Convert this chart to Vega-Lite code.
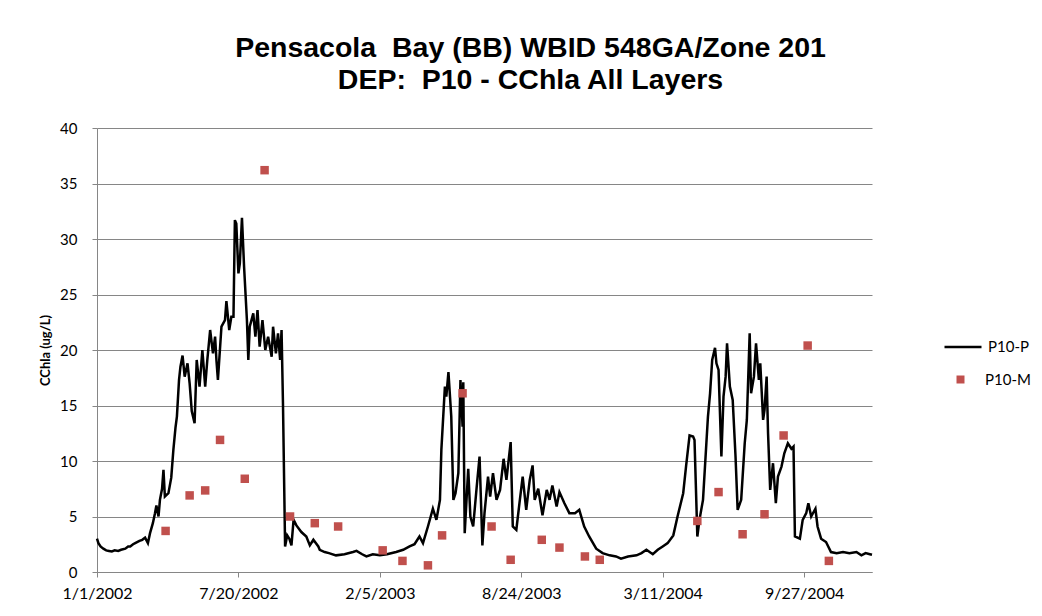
{
  "$schema": "https://vega.github.io/schema/vega-lite/v6.json",
  "width": 775,
  "height": 444,
  "autosize": "none",
  "padding": {"left": 97, "top": 128, "right": 170, "bottom": 44},
  "background": "white",
  "config": {
    "view": {"stroke": null},
    "font": "Lato",
    "axis": {"labelFont": "Lato", "titleFont": "Lato", "labelColor": "#000", "titleColor": "#000", "domainColor": "#868686", "tickColor": "#868686", "gridColor": "#868686", "gridOpacity": 1}
  },
  "title": {
    "text": ["Pensacola\u00a0 Bay (BB) WBID 548GA/Zone 201", "DEP:\u00a0 P10 - CChla All Layers"],
    "font": "Liberation Sans", "fontSize": 28.5, "fontWeight": "bold", "color": "#000",
    "anchor": "middle", "dx": 46, "offset": 27, "lineHeight": 32
  },
  "layer": [
    {
      "data": {
        "format": {"parse": {"date": "date:'%Y-%m-%d'"}},
        "values": [
{"date":"2002-01-01","chla":3.0},{"date":"2002-01-03","chla":2.6},{"date":"2002-01-06","chla":2.3},{"date":"2002-01-10","chla":2.1},{"date":"2002-01-14","chla":1.95},{"date":"2002-01-18","chla":1.9},{"date":"2002-01-22","chla":1.85},{"date":"2002-01-26","chla":1.95},{"date":"2002-01-31","chla":1.9},{"date":"2002-02-04","chla":2.0},{"date":"2002-02-10","chla":2.1},{"date":"2002-02-14","chla":2.3},{"date":"2002-02-17","chla":2.3},{"date":"2002-02-21","chla":2.5},{"date":"2002-02-24","chla":2.6},{"date":"2002-03-02","chla":2.8},{"date":"2002-03-06","chla":2.9},{"date":"2002-03-10","chla":3.1},{"date":"2002-03-14","chla":2.6},{"date":"2002-03-17","chla":3.5},{"date":"2002-03-21","chla":4.4},{"date":"2002-03-24","chla":5.3},{"date":"2002-03-26","chla":6.0},{"date":"2002-03-29","chla":5.0},{"date":"2002-03-31","chla":6.5},{"date":"2002-04-03","chla":7.5},{"date":"2002-04-05","chla":9.2},{"date":"2002-04-07","chla":6.8},{"date":"2002-04-12","chla":7.1},{"date":"2002-04-16","chla":8.5},{"date":"2002-04-19","chla":11.0},{"date":"2002-04-22","chla":13.0},{"date":"2002-04-24","chla":14.0},{"date":"2002-04-27","chla":17.3},{"date":"2002-04-29","chla":18.5},{"date":"2002-05-02","chla":19.5},{"date":"2002-05-05","chla":17.6},{"date":"2002-05-09","chla":18.8},{"date":"2002-05-12","chla":17.0},{"date":"2002-05-15","chla":14.5},{"date":"2002-05-19","chla":13.4},{"date":"2002-05-22","chla":19.1},{"date":"2002-05-26","chla":16.7},{"date":"2002-05-30","chla":20.0},{"date":"2002-06-03","chla":16.7},{"date":"2002-06-06","chla":19.1},{"date":"2002-06-10","chla":21.8},{"date":"2002-06-14","chla":19.7},{"date":"2002-06-17","chla":21.2},{"date":"2002-06-19","chla":19.0},{"date":"2002-06-21","chla":17.3},{"date":"2002-06-26","chla":22.1},{"date":"2002-07-01","chla":22.7},{"date":"2002-07-03","chla":24.4},{"date":"2002-07-07","chla":21.8},{"date":"2002-07-10","chla":23.0},{"date":"2002-07-13","chla":23.0},{"date":"2002-07-15","chla":31.7},{"date":"2002-07-17","chla":31.4},{"date":"2002-07-20","chla":26.9},{"date":"2002-07-22","chla":27.8},{"date":"2002-07-25","chla":31.9},{"date":"2002-07-28","chla":27.5},{"date":"2002-08-01","chla":22.7},{"date":"2002-08-03","chla":19.1},{"date":"2002-08-05","chla":22.1},{"date":"2002-08-10","chla":23.3},{"date":"2002-08-13","chla":21.2},{"date":"2002-08-16","chla":23.6},{"date":"2002-08-19","chla":20.3},{"date":"2002-08-23","chla":22.7},{"date":"2002-08-27","chla":20.0},{"date":"2002-08-31","chla":21.2},{"date":"2002-09-05","chla":19.4},{"date":"2002-09-07","chla":22.1},{"date":"2002-09-11","chla":19.7},{"date":"2002-09-14","chla":21.5},{"date":"2002-09-17","chla":19.1},{"date":"2002-09-19","chla":21.8},{"date":"2002-09-21","chla":15.2},{"date":"2002-09-24","chla":2.3},{"date":"2002-09-27","chla":3.3},{"date":"2002-09-30","chla":3.0},{"date":"2002-10-03","chla":2.4},{"date":"2002-10-06","chla":4.7},{"date":"2002-10-10","chla":4.2},{"date":"2002-10-17","chla":3.6},{"date":"2002-10-24","chla":3.2},{"date":"2002-10-29","chla":2.4},{"date":"2002-11-01","chla":2.7},{"date":"2002-11-03","chla":2.9},{"date":"2002-11-10","chla":2.3},{"date":"2002-11-12","chla":2.0},{"date":"2002-11-19","chla":1.8},{"date":"2002-11-25","chla":1.7},{"date":"2002-12-05","chla":1.5},{"date":"2002-12-17","chla":1.6},{"date":"2002-12-29","chla":1.8},{"date":"2003-01-03","chla":1.9},{"date":"2003-01-11","chla":1.6},{"date":"2003-01-17","chla":1.4},{"date":"2003-01-26","chla":1.6},{"date":"2003-02-05","chla":1.5},{"date":"2003-02-15","chla":1.6},{"date":"2003-02-28","chla":1.8},{"date":"2003-03-10","chla":2.0},{"date":"2003-03-19","chla":2.3},{"date":"2003-03-26","chla":2.5},{"date":"2003-04-02","chla":3.2},{"date":"2003-04-07","chla":2.6},{"date":"2003-04-14","chla":4.1},{"date":"2003-04-21","chla":5.7},{"date":"2003-04-26","chla":4.7},{"date":"2003-05-01","chla":6.5},{"date":"2003-05-03","chla":11.0},{"date":"2003-05-08","chla":16.7},{"date":"2003-05-10","chla":15.8},{"date":"2003-05-13","chla":18.0},{"date":"2003-05-17","chla":14.0},{"date":"2003-05-20","chla":6.5},{"date":"2003-05-23","chla":7.1},{"date":"2003-05-27","chla":8.9},{"date":"2003-05-30","chla":17.3},{"date":"2003-06-02","chla":13.1},{"date":"2003-06-03","chla":17.1},{"date":"2003-06-05","chla":3.5},{"date":"2003-06-10","chla":9.3},{"date":"2003-06-13","chla":5.0},{"date":"2003-06-17","chla":4.1},{"date":"2003-06-22","chla":7.7},{"date":"2003-06-26","chla":10.4},{"date":"2003-06-30","chla":2.4},{"date":"2003-07-03","chla":5.3},{"date":"2003-07-08","chla":8.6},{"date":"2003-07-11","chla":6.8},{"date":"2003-07-15","chla":8.9},{"date":"2003-07-20","chla":6.5},{"date":"2003-07-25","chla":7.4},{"date":"2003-07-30","chla":10.2},{"date":"2003-08-03","chla":8.3},{"date":"2003-08-09","chla":11.7},{"date":"2003-08-12","chla":4.1},{"date":"2003-08-17","chla":3.8},{"date":"2003-08-22","chla":6.5},{"date":"2003-08-26","chla":8.6},{"date":"2003-08-31","chla":5.6},{"date":"2003-09-05","chla":8.3},{"date":"2003-09-09","chla":9.6},{"date":"2003-09-12","chla":6.5},{"date":"2003-09-17","chla":7.5},{"date":"2003-09-23","chla":5.1},{"date":"2003-09-29","chla":7.4},{"date":"2003-10-03","chla":6.5},{"date":"2003-10-07","chla":7.8},{"date":"2003-10-13","chla":5.9},{"date":"2003-10-17","chla":7.2},{"date":"2003-10-24","chla":6.2},{"date":"2003-10-31","chla":5.3},{"date":"2003-11-08","chla":5.3},{"date":"2003-11-14","chla":5.6},{"date":"2003-11-21","chla":4.1},{"date":"2003-11-28","chla":3.2},{"date":"2003-12-08","chla":2.1},{"date":"2003-12-17","chla":1.7},{"date":"2003-12-27","chla":1.5},{"date":"2004-01-05","chla":1.4},{"date":"2004-01-12","chla":1.2},{"date":"2004-01-22","chla":1.4},{"date":"2004-02-03","chla":1.5},{"date":"2004-02-10","chla":1.7},{"date":"2004-02-17","chla":2.0},{"date":"2004-02-26","chla":1.6},{"date":"2004-03-04","chla":2.0},{"date":"2004-03-11","chla":2.3},{"date":"2004-03-18","chla":2.6},{"date":"2004-03-26","chla":3.3},{"date":"2004-04-01","chla":5.0},{"date":"2004-04-09","chla":7.1},{"date":"2004-04-13","chla":9.5},{"date":"2004-04-18","chla":12.3},{"date":"2004-04-23","chla":12.2},{"date":"2004-04-25","chla":11.9},{"date":"2004-04-29","chla":3.2},{"date":"2004-05-02","chla":4.7},{"date":"2004-05-07","chla":6.5},{"date":"2004-05-14","chla":14.0},{"date":"2004-05-17","chla":16.1},{"date":"2004-05-20","chla":19.1},{"date":"2004-05-24","chla":20.2},{"date":"2004-05-26","chla":18.8},{"date":"2004-05-29","chla":18.2},{"date":"2004-06-02","chla":10.4},{"date":"2004-06-05","chla":15.8},{"date":"2004-06-08","chla":17.6},{"date":"2004-06-10","chla":20.6},{"date":"2004-06-14","chla":16.7},{"date":"2004-06-18","chla":15.5},{"date":"2004-06-22","chla":10.4},{"date":"2004-06-25","chla":5.6},{"date":"2004-06-30","chla":6.5},{"date":"2004-07-05","chla":11.6},{"date":"2004-07-08","chla":13.7},{"date":"2004-07-12","chla":21.5},{"date":"2004-07-14","chla":16.1},{"date":"2004-07-18","chla":17.6},{"date":"2004-07-21","chla":20.6},{"date":"2004-07-25","chla":17.3},{"date":"2004-07-27","chla":18.8},{"date":"2004-07-31","chla":13.7},{"date":"2004-08-02","chla":14.6},{"date":"2004-08-05","chla":17.6},{"date":"2004-08-07","chla":12.5},{"date":"2004-08-10","chla":7.4},{"date":"2004-08-14","chla":9.8},{"date":"2004-08-18","chla":6.2},{"date":"2004-08-21","chla":8.6},{"date":"2004-08-26","chla":9.5},{"date":"2004-08-30","chla":10.7},{"date":"2004-09-04","chla":11.6},{"date":"2004-09-09","chla":11.1},{"date":"2004-09-12","chla":11.3},{"date":"2004-09-14","chla":3.2},{"date":"2004-09-21","chla":3.0},{"date":"2004-09-25","chla":4.7},{"date":"2004-09-30","chla":5.3},{"date":"2004-10-03","chla":6.2},{"date":"2004-10-07","chla":5.0},{"date":"2004-10-13","chla":5.7},{"date":"2004-10-16","chla":4.1},{"date":"2004-10-21","chla":3.0},{"date":"2004-10-28","chla":2.7},{"date":"2004-11-04","chla":1.8},{"date":"2004-11-12","chla":1.7},{"date":"2004-11-21","chla":1.8},{"date":"2004-11-30","chla":1.7},{"date":"2004-12-10","chla":1.8},{"date":"2004-12-17","chla":1.5},{"date":"2004-12-23","chla":1.7},{"date":"2004-12-29","chla":1.6},{"date":"2005-01-01","chla":1.55}
        ]
      },
      "mark": {"type": "line", "strokeWidth": 2.5, "interpolate": "linear"},
      "encoding": {
        "x": {
          "field": "date", "type": "temporal",
          "scale": {"domain": [{"year": 2002, "month": 1, "date": 1}, {"year": 2005, "month": 1, "date": 1}]},
          "axis": {
            "title": null, "grid": false, "format": "%-m/%-d/%Y",
            "values": [{"year": 2002, "month": 1, "date": 1}, {"year": 2002, "month": 7, "date": 20}, {"year": 2003, "month": 2, "date": 5}, {"year": 2003, "month": 8, "date": 24}, {"year": 2004, "month": 3, "date": 11}, {"year": 2004, "month": 9, "date": 27}],
            "labelFontSize": 16, "labelPadding": 8, "tickSize": 5, "labelFlush": false, "labelOverlap": false
          }
        },
        "y": {
          "field": "chla", "type": "quantitative",
          "scale": {"domain": [0, 40], "nice": false},
          "axis": {
            "title": "CChla (ug/L)", "titleFontSize": 13, "titleFontWeight": "bold", "titlePadding": 7,
            "values": [0, 5, 10, 15, 20, 25, 30, 35, 40], "labelFontSize": 15, "labelPadding": 15, "tickSize": 5
          }
        },
        "stroke": {
          "datum": "P10-P",
          "scale": {"range": ["#000000"]},
          "legend": {
            "title": null, "orient": "none", "legendX": 846, "legendY": 199, "padding": 0,
            "symbolType": "stroke", "symbolSize": 1369, "symbolStrokeWidth": 2.5,
            "labelFontSize": 15, "labelFont": "Lato", "labelColor": "#000", "labelOffset": 5
          }
        }
      }
    },
    {
      "data": {
        "format": {"parse": {"date": "date:'%Y-%m-%d'"}},
        "values": [
{"date":"2002-04-08","chla":3.7},{"date":"2002-05-12","chla":6.9},{"date":"2002-06-03","chla":7.35},{"date":"2002-06-24","chla":11.9},{"date":"2002-07-29","chla":8.4},{"date":"2002-08-26","chla":36.2},{"date":"2002-10-01","chla":5.0},{"date":"2002-11-05","chla":4.4},{"date":"2002-12-08","chla":4.1},{"date":"2003-02-09","chla":1.95},{"date":"2003-03-09","chla":1.0},{"date":"2003-04-14","chla":0.6},{"date":"2003-05-04","chla":3.3},{"date":"2003-06-02","chla":16.1},{"date":"2003-07-13","chla":4.1},{"date":"2003-08-09","chla":1.1},{"date":"2003-09-22","chla":2.9},{"date":"2003-10-17","chla":2.2},{"date":"2003-11-22","chla":1.4},{"date":"2003-12-13","chla":1.1},{"date":"2004-04-29","chla":4.6},{"date":"2004-05-29","chla":7.2},{"date":"2004-07-02","chla":3.4},{"date":"2004-08-02","chla":5.2},{"date":"2004-08-29","chla":12.3},{"date":"2004-10-02","chla":20.4},{"date":"2004-11-01","chla":1.0}
        ]
      },
      "mark": {"type": "point", "shape": "square", "filled": true, "size": 72, "opacity": 1},
      "encoding": {
        "x": {"field": "date", "type": "temporal"},
        "y": {"field": "chla", "type": "quantitative"},
        "fill": {
          "datum": "P10-M",
          "scale": {"range": ["#C0504D"]},
          "legend": {
            "title": null, "orient": "none", "legendX": 856, "legendY": 244, "padding": 0,
            "symbolType": "square", "symbolSize": 64, "symbolStrokeWidth": 0, "symbolOpacity": 1,
            "labelFontSize": 15, "labelFont": "Lato", "labelColor": "#000", "labelOffset": 17
          }
        }
      }
    }
  ]
}
